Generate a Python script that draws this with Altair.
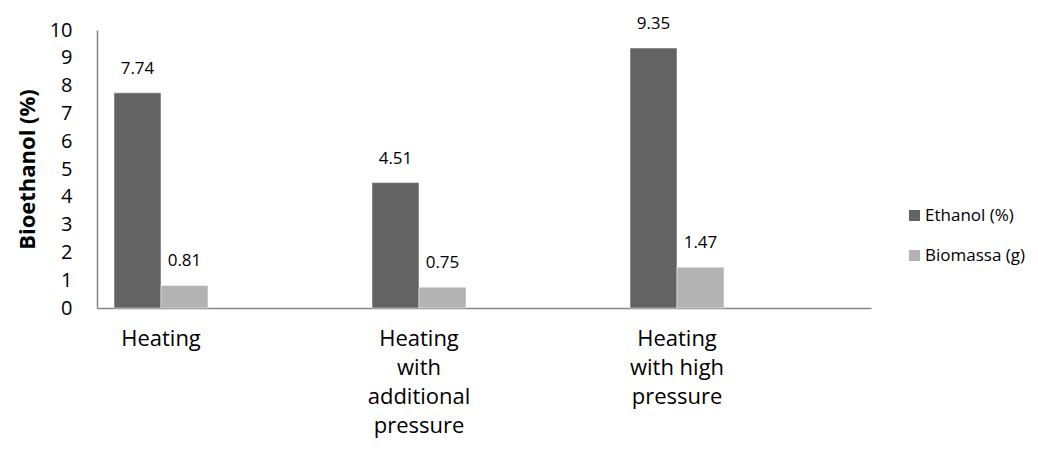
import json
import altair as alt
import pandas as pd

categories = ["Heating", "Heating with additional pressure", "Heating with high pressure"]
category_lines = [["Heating"], ["Heating", "with", "additional", "pressure"], ["Heating", "with high", "pressure"]]
series = ["Ethanol (%)", "Biomassa (g)"]
ethanol = [7.74, 4.51, 9.35]
biomassa = [0.81, 0.75, 1.47]
colors = ["#636363", "#b3b3b3"]
y_ticks = list(range(0, 11))
offset_slots = series + ["_gap1", "_gap2", "_gap3"]

rows = []
for c, e, b in zip(categories, ethanol, biomassa):
    rows.append({"cat": c, "series": series[0], "value": e, "label": f"{e:.2f}"})
    rows.append({"cat": c, "series": series[1], "value": b, "label": f"{b:.2f}"})
df = pd.DataFrame(rows)

expr = json.dumps(category_lines[-1])
for c, lines in reversed(list(zip(categories[:-1], category_lines[:-1]))):
    expr = f"datum.value == {json.dumps(c)} ? {json.dumps(lines)} : ({expr})"

FONT = "Open Sans"

x = alt.X("cat:N", sort=categories, title=None,
          scale=alt.Scale(paddingInner=0, paddingOuter=0),
          axis=alt.Axis(labelAngle=0, labelExpr=expr, labelFontSize=22, labelFont=FONT,
                        labelColor="#000000", labelLineHeight=29, labelBaseline="top",
                        labelPadding=20, labelOffset=-65, ticks=False,
                        domainColor="#868686", domainWidth=1.5, labelLimit=300))
xoff = alt.XOffset("series:N",
                   scale=alt.Scale(domain=offset_slots, paddingInner=0, paddingOuter=0.2447, align=0.739))
y = alt.Y("value:Q", scale=alt.Scale(domain=[0, 10], nice=False),
          axis=alt.Axis(values=y_ticks, grid=False, ticks=False, labelFontSize=20, labelFont=FONT,
                        labelColor="#000000", labelPadding=25, domainColor="#868686", domainWidth=1.5,
                        title="Bioethanol (%)", titleFont=FONT, titleFontSize=22, titleFontWeight="bold",
                        titleColor="#000000", titleAngle=270, titleX=-70, titleY=139,
                        titleAlign="center", titleBaseline="middle"))

bars = alt.Chart(df).mark_bar(stroke="#ffffff", strokeWidth=0.5).encode(
    x=x, xOffset=xoff, y=y,
    color=alt.Color("series:N", sort=series,
                    scale=alt.Scale(domain=series, range=colors),
                    legend=alt.Legend(title=None, orient="none", legendX=809, legendY=177,
                                      symbolType="square", symbolSize=121, symbolStrokeWidth=0,
                                      labelFont=FONT, labelFontSize=17, labelColor="#000000",
                                      labelOffset=2, rowPadding=22, labelLimit=200)),
)
texts = alt.Chart(df).mark_text(font=FONT, fontSize=17, color="#000000", baseline="alphabetic", dy=-19).encode(
    x=x, xOffset=xoff, y=y, text="label:N")

chart = alt.layer(bars, texts).properties(
    width=774, height=278,
    autosize=alt.AutoSizeParams(type="none"),
    padding={"left": 89, "top": 22, "right": 158, "bottom": 132},
).configure_view(stroke=None)

chart.save("out.html", embed_options={"renderer": "svg", "actions": False})
